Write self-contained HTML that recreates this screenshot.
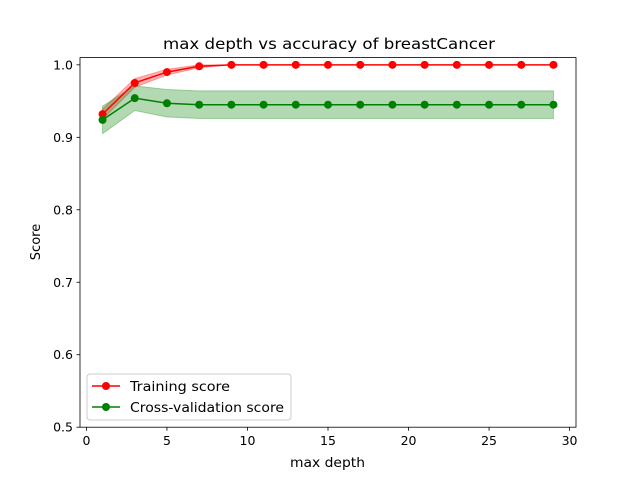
<!DOCTYPE html>
<html><head><meta charset="utf-8"><style>
body{margin:0;background:#fff;}
svg{font-family:"DejaVu Sans","Liberation Sans",sans-serif;}
</style></head><body>
<svg id="chart" width="640" height="480" viewBox="0 0 640 480" xmlns="http://www.w3.org/2000/svg">
<rect width="640" height="480" fill="#fff"/>
<text x="163" y="49" textLength="332" lengthAdjust="spacingAndGlyphs" font-size="15">max depth vs accuracy of breastCancer</text>
<g id="bands"></g><g id="lines"></g><g id="ticks"></g>
<rect x="80" y="57.6" width="496" height="369.6" fill="none" stroke="#000" stroke-width="0.8"/>
<text x="290" y="467" textLength="75" lengthAdjust="spacingAndGlyphs" font-size="13">max depth</text>
<text transform="translate(40,242) rotate(-90)" text-anchor="middle" font-size="13">Score</text>
<g>
<rect x="87" y="374" width="204" height="46" rx="3" fill="#fff" fill-opacity="0.8" stroke="#ccc"/>
<g><line x1="92" y1="386" x2="120" y2="386" stroke="red" stroke-width="1.5"/><circle cx="106" cy="386" r="4" fill="red"/><text x="130" y="391" textLength="100" lengthAdjust="spacingAndGlyphs" font-size="13">Training score</text></g>
<g><line x1="92" y1="407" x2="120" y2="407" stroke="green" stroke-width="1.5"/><circle cx="106" cy="407" r="4" fill="green"/><text x="130" y="412" textLength="154" lengthAdjust="spacingAndGlyphs" font-size="13">Cross-validation score</text></g>
</g>
</svg>
<script>
const depths=[1,3,5,7,9,11,13,15,17,19,21,23,25,27,29];
const trainMean=[0.932,0.975,0.990,0.998,1,1,1,1,1,1,1,1,1,1,1];
const trainStd=[0.007,0.006,0.004,0.002,0,0,0,0,0,0,0,0,0,0,0];
const cvMean=[0.924,0.954,0.947,0.945,0.945,0.945,0.945,0.945,0.945,0.945,0.945,0.945,0.945,0.945,0.945];
const cvStd=[0.019,0.017,0.019,0.019,0.019,0.019,0.019,0.019,0.019,0.019,0.019,0.019,0.019,0.019,0.019];
const xTicks=[0,5,10,15,20,25,30];
const yTicks=[0.5,0.6,0.7,0.8,0.9,1.0];
const NS="http://www.w3.org/2000/svg";
const X=v=>80+(v+0.4)/30.8*496;
const Y=v=>427.2-(v-0.5)/0.51*369.6;
function mk(t,a,p){const e=document.createElementNS(NS,t);for(const k in a)e.setAttribute(k,a[k]);document.getElementById(p).appendChild(e);return e;}
function band(m,s,c,name){
 let pts=depths.map((d,i)=>X(d)+","+Y(m[i]+s[i]));
 pts=pts.concat(depths.map((d,i)=>X(d)+","+Y(m[i]-s[i])).reverse());
 const e=mk("polygon",{points:pts.join(" "),fill:c,"fill-opacity":0.3,stroke:c,"stroke-opacity":0.3},"bands");
 
 
}
band(trainMean,trainStd,"red","training-std-band");
band(cvMean,cvStd,"green","cv-std-band");
function line(m,c,name){
 const l=mk("polyline",{points:depths.map((d,i)=>X(d)+","+Y(m[i])).join(" "),fill:"none",stroke:c,"stroke-width":1.5},"lines");
 
 
 depths.forEach((d,i)=>{const p=mk("circle",{cx:X(d),cy:Y(m[i]),r:4,fill:c},"lines");
 
 });
}
line(trainMean,"red","training-score");
line(cvMean,"green","cv-score");
xTicks.forEach(v=>{const x=X(v);
 const t=mk("line",{x1:x,x2:x,y1:427.2,y2:430.7,stroke:"#000","stroke-width":0.8},"ticks");
 
 
 const s=mk("text",{x:x,y:445,"text-anchor":"middle","font-size":12.5},"ticks");s.textContent=v;
 
 });
yTicks.forEach(v=>{const y=Y(v);
 const t=mk("line",{x1:76.5,x2:80,y1:y,y2:y,stroke:"#000","stroke-width":0.8},"ticks");
 
 
 const s=mk("text",{x:73,y:y+4.5,"text-anchor":"end","font-size":12.5},"ticks");s.textContent=v.toFixed(1);
 
 });
</script>
</body></html>
